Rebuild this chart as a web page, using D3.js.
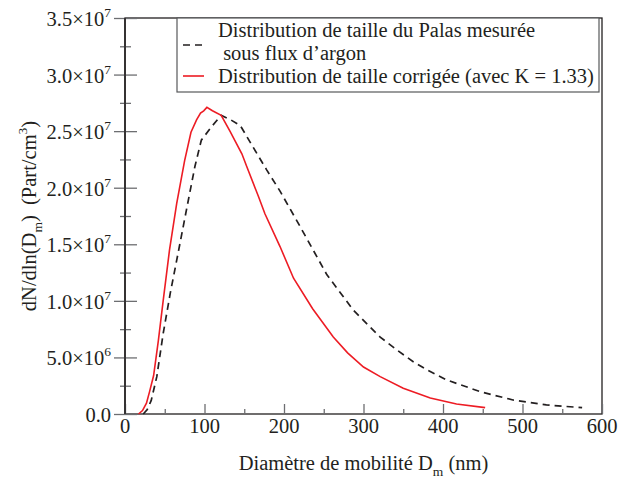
<!DOCTYPE html>
<html><head><meta charset="utf-8">
<script src="https://cdn.jsdelivr.net/npm/d3@7"></script>
<style>
body{margin:0;background:#fff}
text{font-family:"Liberation Serif","Times New Roman",serif;fill:#231f20}
</style>
</head><body>
<svg id="c" width="618" height="479"></svg>
<script>
// ---- data ----
const measuredX = [23, 28, 33, 40, 48, 57, 67, 78, 88, 96, 109, 121, 133, 145, 161, 178, 195, 220, 254, 287, 308, 321, 342, 363, 380, 405, 447, 488, 530, 575];
const measuredY = [0, 0.4e6, 1.2e6, 3.3e6, 7.1e6, 10.7e6, 14.3e6, 18.3e6, 21.9e6, 24.2e6, 25.4e6, 26.4e6, 26.0e6, 25.5e6, 23.6e6, 21.6e6, 19.7e6, 16.6e6, 12.3e6, 9.2e6, 7.7e6, 6.8e6, 5.66e6, 4.6e6, 3.9e6, 3.0e6, 1.97e6, 1.24e6, 0.8e6, 0.56e6];
const correctedX = [17, 22, 27, 31, 36, 42, 48, 56, 65, 75, 83, 90, 95, 99, 103, 110, 121, 132, 147, 153, 168, 176, 195, 212, 236, 262, 280, 300, 321, 350, 384, 417, 453];
const correctedY = [0, 0.3e6, 0.95e6, 2.0e6, 3.4e6, 6.5e6, 10.0e6, 14.5e6, 18.6e6, 22.4e6, 24.9e6, 26.0e6, 26.6e6, 26.8e6, 27.1e6, 26.8e6, 26.4e6, 25.0e6, 23.0e6, 21.9e6, 19.2e6, 17.7e6, 14.8e6, 12.0e6, 9.3e6, 6.8e6, 5.4e6, 4.15e6, 3.3e6, 2.27e6, 1.42e6, 0.88e6, 0.56e6];
const xTickValues = [0, 100, 200, 300, 400, 500, 600];
const xMinorTicks = [50, 150, 250, 350, 450, 550];
const yTickValues = [0, 5e6, 1e7, 1.5e7, 2e7, 2.5e7, 3e7, 3.5e7];
const yTickMantissa = ["0.0", "5.0", "1.0", "1.5", "2.0", "2.5", "3.0", "3.5"];
const yTickExponent = ["", "6", "7", "7", "7", "7", "7", "7"];
const yMinorTicks = [2.5e6, 7.5e6, 1.25e7, 1.75e7, 2.25e7, 2.75e7, 3.25e7];
const legendLabels = [["Distribution de taille du Palas mesurée", "\u00a0sous flux d\u2019argon"], ["Distribution de taille corrigée (avec K = 1.33)"]];

// ---- layout ----
const svg = d3.select("#c");
const L = 125, R = 602, T = 18, B = 414;
const FS = 20.5;
const x = d3.scaleLinear().domain([0, 600]).range([L, R]);
const y = d3.scaleLinear().domain([0, 3.5e7]).range([B, T]);
const tickCol = "#6d6e71";

// frame
svg.append("rect").attr("x", L).attr("y", T).attr("width", R - L).attr("height", B - T)
  .attr("fill", "none").attr("stroke", "#231f20").attr("stroke-width", 1.3);

// x axis ticks (inward)
const gx = svg.append("g").attr("transform", `translate(0,${B})`);
gx.call(d3.axisTop(x).tickValues(xTickValues).tickSize(10).tickFormat(""));
gx.append("g").call(d3.axisTop(x).tickValues(xMinorTicks).tickSize(5).tickFormat(""));
gx.selectAll(".domain").remove();
gx.selectAll("line").attr("stroke", tickCol).attr("stroke-width", 1.3);
svg.append("g").selectAll("text").data(xTickValues).join("text")
  .attr("x", d => x(d)).attr("y", B + 19).attr("text-anchor", "middle")
  .attr("font-size", FS).text(d => d);

// y axis ticks (crossing)
const gy = svg.append("g").attr("transform", `translate(${L},0)`);
gy.call(d3.axisRight(y).tickValues(yTickValues).tickSize(12).tickFormat(""));
gy.append("g").call(d3.axisRight(y).tickValues(yMinorTicks).tickSize(6).tickFormat(""));
const gy2 = svg.append("g").attr("transform", `translate(${L},0)`);
gy2.call(d3.axisLeft(y).tickValues(yTickValues).tickSize(11).tickFormat(""));
gy2.append("g").call(d3.axisLeft(y).tickValues(yMinorTicks).tickSize(5).tickFormat(""));
svg.selectAll(".domain").remove();
gy.selectAll("line").attr("stroke", tickCol).attr("stroke-width", 1.3);
gy2.selectAll("line").attr("stroke", tickCol).attr("stroke-width", 1.3);
svg.append("line").attr("x1", L).attr("x2", L).attr("y1", T).attr("y2", B).attr("stroke", "#231f20").attr("stroke-width", 1.5);

const yl = svg.append("g").selectAll("text").data(yTickValues).join("text")
  .attr("x", 111).attr("y", d => y(d) + 8).attr("text-anchor", "end").attr("font-size", FS);
yl.each(function(d, i) {
  const t = d3.select(this);
  if (yTickExponent[i] === "") { t.text(yTickMantissa[i]); return; }
  t.append("tspan").text(yTickMantissa[i] + "\u00d710");
  t.append("tspan").attr("dy", -9).attr("font-size", 13.5).text(yTickExponent[i]);
});

// curves
const line = d3.line().x(d => x(d[0])).y(d => y(d[1]));
svg.append("path").datum(measuredX.map((v, i) => [v, measuredY[i]]))
  .attr("d", line).attr("fill", "none").attr("stroke", "#231f20")
  .attr("stroke-width", 1.7).attr("stroke-dasharray", "7,5");
svg.append("path").datum(correctedX.map((v, i) => [v, correctedY[i]]))
  .attr("d", line).attr("fill", "none").attr("stroke", "#ed1c24")
  .attr("stroke-width", 1.6);

// legend
const lg = svg.append("g");
lg.append("rect").attr("x", 177).attr("y", T).attr("width", 422).attr("height", 74)
  .attr("fill", "#fff").attr("stroke", "#58595b").attr("stroke-width", 1.2);
lg.append("line").attr("x1", 183).attr("x2", 204).attr("y1", 45).attr("y2", 45)
  .attr("stroke", "#231f20").attr("stroke-width", 1.7).attr("stroke-dasharray", "7,5");
lg.append("line").attr("x1", 183).attr("x2", 204).attr("y1", 76).attr("y2", 76)
  .attr("stroke", "#ed1c24").attr("stroke-width", 1.6);
lg.append("text").attr("x", 218).attr("y", 37).attr("font-size", FS).text(legendLabels[0][0]);
lg.append("text").attr("x", 218).attr("y", 60).attr("font-size", FS).text(legendLabels[0][1]);
lg.append("text").attr("x", 218).attr("y", 83).attr("font-size", FS).text(legendLabels[1][0]);

// axis titles
const xt = svg.append("text").attr("x", (L + R) / 2).attr("y", 470).attr("text-anchor", "middle").attr("font-size", FS);
xt.append("tspan").text("Diamètre de mobilité D");
xt.append("tspan").attr("dy", 6).attr("font-size", 13.5).text("m");
xt.append("tspan").attr("dy", -6).text(" (nm)");

const yt = svg.append("text").attr("transform", `translate(36,${(T + B) / 2}) rotate(-90)`)
  .attr("text-anchor", "middle").attr("font-size", FS);
yt.append("tspan").text("dN/dln(D");
yt.append("tspan").attr("dy", 6).attr("font-size", 13.5).text("m");
yt.append("tspan").attr("dy", -6).text(")\u00a0\u00a0(Part/cm");
yt.append("tspan").attr("dy", -9).attr("font-size", 13.5).text("3");
yt.append("tspan").attr("dy", 9).text(")");
</script>
</body></html>
